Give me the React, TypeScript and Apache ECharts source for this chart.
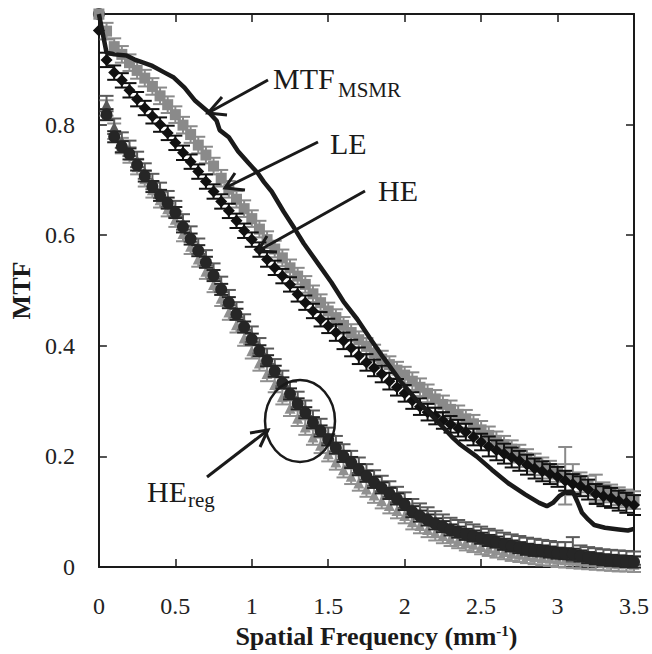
import React, { useEffect, useRef } from "react";
import * as echarts from "echarts";

const FREQ = [
  0, 0.05, 0.1, 0.15, 0.2, 0.25, 0.3, 0.35, 0.4, 0.45, 0.5, 0.55, 0.6, 0.65, 0.7, 0.75, 0.8, 0.85, 0.9, 0.95,
  1.0, 1.05, 1.1, 1.15, 1.2, 1.25, 1.3, 1.35, 1.4, 1.45, 1.5, 1.55, 1.6, 1.65, 1.7, 1.75, 1.8, 1.85, 1.9, 1.95,
  2.0, 2.05, 2.1, 2.15, 2.2, 2.25, 2.3, 2.35, 2.4, 2.45, 2.5, 2.55, 2.6, 2.65, 2.7, 2.75, 2.8, 2.85, 2.9, 2.95,
  3.0, 3.05, 3.1, 3.15, 3.2, 3.25, 3.3, 3.35, 3.4, 3.45, 3.5,
];

const LE = [
  1.0, 0.969, 0.941, 0.927, 0.912, 0.898, 0.884, 0.869, 0.852, 0.836, 0.818, 0.799, 0.782, 0.763, 0.745, 0.725, 0.703, 0.683, 0.665, 0.648,
  0.63, 0.611, 0.592, 0.575, 0.559, 0.541, 0.526, 0.511, 0.494, 0.478, 0.463, 0.451, 0.437, 0.424, 0.411, 0.399, 0.387, 0.376, 0.366, 0.356,
  0.347, 0.336, 0.325, 0.314, 0.304, 0.294, 0.285, 0.276, 0.268, 0.259, 0.248, 0.238, 0.229, 0.221, 0.213, 0.205, 0.197, 0.189, 0.182, 0.176,
  0.17, 0.165, 0.158, 0.153, 0.147, 0.142, 0.137, 0.133, 0.128, 0.124, 0.121,
];
const LE_ERR = [
  0, 0.015, 0.015, 0.015, 0.015, 0.015, 0.015, 0.015, 0.015, 0.015, 0.015, 0.015, 0.015, 0.015, 0.015, 0.015, 0.015, 0.015, 0.015, 0.015,
  0.015, 0.015, 0.015, 0.015, 0.015, 0.015, 0.015, 0.015, 0.015, 0.015, 0.015, 0.015, 0.015, 0.015, 0.015, 0.015, 0.015, 0.015, 0.015, 0.015,
  0.015, 0.016, 0.016, 0.016, 0.016, 0.016, 0.016, 0.016, 0.016, 0.016, 0.016, 0.016, 0.016, 0.016, 0.016, 0.016, 0.016, 0.016, 0.016, 0.016,
  0.016, 0.052, 0.028, 0.018, 0.018, 0.025, 0.016, 0.016, 0.016, 0.016, 0.016,
];

const HE = [
  0.97, 0.917, 0.894, 0.88, 0.862, 0.846, 0.83, 0.815, 0.8, 0.785, 0.767, 0.749, 0.733, 0.715, 0.697, 0.679, 0.661, 0.644, 0.626, 0.608,
  0.592, 0.574, 0.556, 0.541, 0.526, 0.511, 0.493, 0.478, 0.463, 0.448, 0.436, 0.424, 0.409, 0.396, 0.382, 0.37, 0.36, 0.349, 0.336, 0.325,
  0.314, 0.301, 0.29, 0.28, 0.273, 0.265, 0.258, 0.251, 0.244, 0.235, 0.226, 0.218, 0.211, 0.205, 0.198, 0.192, 0.185, 0.178, 0.173, 0.168,
  0.163, 0.156, 0.15, 0.146, 0.14, 0.132, 0.128, 0.125, 0.12, 0.116, 0.112,
];
const HE_ERR = [
  0, 0.013, 0.013, 0.013, 0.013, 0.013, 0.013, 0.013, 0.013, 0.013, 0.013, 0.013, 0.013, 0.013, 0.013, 0.013, 0.013, 0.013, 0.013, 0.013,
  0.013, 0.013, 0.013, 0.013, 0.013, 0.013, 0.013, 0.013, 0.013, 0.013, 0.013, 0.015, 0.015, 0.015, 0.015, 0.015, 0.015, 0.015, 0.015, 0.015,
  0.015, 0.015, 0.015, 0.015, 0.015, 0.015, 0.015, 0.015, 0.015, 0.015, 0.015, 0.018, 0.018, 0.018, 0.018, 0.018, 0.018, 0.018, 0.018, 0.018,
  0.018, 0.018, 0.018, 0.018, 0.018, 0.018, 0.018, 0.018, 0.018, 0.018, 0.018,
];

const REG_A = [
  1.0, 0.818, 0.778, 0.76, 0.747, 0.727, 0.707, 0.688, 0.672, 0.658, 0.641, 0.615, 0.593, 0.572, 0.551, 0.527, 0.502, 0.478, 0.457, 0.434,
  0.412, 0.391, 0.373, 0.354, 0.333, 0.313, 0.295, 0.279, 0.261, 0.246, 0.23, 0.215, 0.2, 0.189, 0.176, 0.164, 0.153, 0.143, 0.133, 0.123,
  0.113, 0.1, 0.092, 0.085, 0.078, 0.073, 0.067, 0.063, 0.059, 0.056, 0.052, 0.048, 0.045, 0.041, 0.038, 0.035, 0.032, 0.03, 0.029, 0.027,
  0.025, 0.024, 0.023, 0.02, 0.017, 0.015, 0.013, 0.012, 0.011, 0.01, 0.009,
];
const REG_A_ERR = [
  0, 0.01, 0.01, 0.01, 0.01, 0.01, 0.01, 0.01, 0.01, 0.01, 0.01, 0.01, 0.01, 0.01, 0.01, 0.01, 0.01, 0.01, 0.01, 0.01,
  0.01, 0.01, 0.01, 0.01, 0.01, 0.01, 0.01, 0.01, 0.01, 0.01, 0.01, 0.01, 0.01, 0.01, 0.01, 0.01, 0.01, 0.01, 0.01, 0.01,
  0.01, 0.01, 0.01, 0.01, 0.01, 0.01, 0.01, 0.01, 0.01, 0.01, 0.01, 0.01, 0.01, 0.01, 0.01, 0.01, 0.01, 0.01, 0.01, 0.01,
  0.01, 0.01, 0.01, 0.01, 0.01, 0.01, 0.01, 0.01, 0.01, 0.01, 0.01,
];

const REG_B = [
  1.0, 0.838, 0.797, 0.772, 0.757, 0.737, 0.716, 0.697, 0.681, 0.666, 0.648, 0.624, 0.602, 0.58, 0.559, 0.535, 0.511, 0.487, 0.465, 0.443,
  0.421, 0.4, 0.381, 0.362, 0.341, 0.321, 0.303, 0.287, 0.269, 0.254, 0.238, 0.223, 0.208, 0.196, 0.184, 0.172, 0.161, 0.151, 0.141, 0.131,
  0.121, 0.109, 0.101, 0.094, 0.087, 0.081, 0.075, 0.071, 0.067, 0.063, 0.059, 0.055, 0.052, 0.048, 0.045, 0.042, 0.039, 0.037, 0.035, 0.033,
  0.031, 0.031, 0.032, 0.027, 0.024, 0.022, 0.02, 0.019, 0.018, 0.017, 0.016,
];
const REG_B_ERR = [
  0, 0.014, 0.014, 0.014, 0.014, 0.014, 0.014, 0.014, 0.014, 0.014, 0.014, 0.014, 0.014, 0.014, 0.014, 0.014, 0.014, 0.014, 0.014, 0.014,
  0.014, 0.014, 0.014, 0.014, 0.014, 0.014, 0.014, 0.014, 0.014, 0.014, 0.014, 0.014, 0.014, 0.014, 0.014, 0.014, 0.014, 0.014, 0.014, 0.014,
  0.014, 0.014, 0.014, 0.014, 0.014, 0.014, 0.014, 0.014, 0.014, 0.014, 0.014, 0.014, 0.014, 0.014, 0.014, 0.014, 0.014, 0.014, 0.014, 0.014,
  0.014, 0.014, 0.022, 0.012, 0.012, 0.012, 0.012, 0.012, 0.012, 0.012, 0.012,
];

const REG_C = [
  1.0, 0.83, 0.788, 0.762, 0.745, 0.724, 0.702, 0.682, 0.664, 0.648, 0.629, 0.603, 0.58, 0.557, 0.535, 0.511, 0.486, 0.461, 0.438, 0.414,
  0.391, 0.369, 0.35, 0.33, 0.308, 0.287, 0.269, 0.253, 0.235, 0.22, 0.205, 0.19, 0.176, 0.164, 0.152, 0.141, 0.13, 0.12, 0.111, 0.102,
  0.093, 0.082, 0.075, 0.068, 0.062, 0.057, 0.052, 0.048, 0.044, 0.041, 0.037, 0.034, 0.031, 0.028, 0.025, 0.023, 0.021, 0.019, 0.017, 0.016,
  0.014, 0.013, 0.012, 0.011, 0.01, 0.009, 0.008, 0.007, 0.006, 0.006, 0.005,
];
const REG_C_ERR = [
  0, 0.014, 0.014, 0.014, 0.014, 0.014, 0.014, 0.014, 0.014, 0.014, 0.014, 0.014, 0.014, 0.014, 0.014, 0.014, 0.014, 0.014, 0.014, 0.014,
  0.014, 0.014, 0.014, 0.014, 0.014, 0.014, 0.014, 0.014, 0.014, 0.014, 0.014, 0.014, 0.014, 0.014, 0.014, 0.014, 0.014, 0.014, 0.014, 0.014,
  0.014, 0.014, 0.014, 0.014, 0.014, 0.014, 0.014, 0.014, 0.014, 0.014, 0.014, 0.014, 0.014, 0.014, 0.014, 0.014, 0.014, 0.014, 0.014, 0.014,
  0.014, 0.014, 0.014, 0.014, 0.014, 0.014, 0.014, 0.014, 0.014, 0.014, 0.014,
];

const MSMR_X = [
  0, 0.05, 0.1, 0.18, 0.23, 0.29, 0.35, 0.43, 0.49, 0.56, 0.63, 0.72, 0.77, 0.79, 0.85, 0.91, 0.98, 1.04, 1.08, 1.13,
  1.21, 1.28, 1.34, 1.43, 1.52, 1.6, 1.69, 1.77, 1.86, 1.97, 2.08, 2.19, 2.31, 2.36, 2.47, 2.57, 2.68, 2.79, 2.88, 2.93,
  2.97, 3.01, 3.05, 3.1, 3.13, 3.16, 3.2, 3.24, 3.31, 3.4, 3.46, 3.5,
];
const MSMR_Y = [
  1.0, 0.93, 0.927, 0.925, 0.918, 0.912, 0.906, 0.894, 0.885, 0.867, 0.843, 0.822, 0.807, 0.79, 0.777, 0.752, 0.73, 0.712, 0.696, 0.679,
  0.642, 0.612, 0.585, 0.55, 0.515, 0.48, 0.448, 0.415, 0.379, 0.337, 0.301, 0.271, 0.235, 0.222, 0.2, 0.176, 0.151, 0.131, 0.116, 0.11,
  0.116, 0.128, 0.135, 0.136, 0.118, 0.098, 0.086, 0.076, 0.071, 0.068, 0.066, 0.069,
];

const X_NAME = "Spatial Frequency (mm{sup|-1})";
const Y_NAME = "MTF";

const SERIF = "Liberation Serif";
const INK = "#1a1a1a";

function errorSeries(ys: number[], errs: number[], color: string, z: number) {
  return {
    type: "custom",
    z,
    silent: true,
    clip: false,
    data: FREQ.map((x, i) => [x, ys[i], errs[i]]),
    renderItem: (params: any, api: any) => {
      const x = api.value(0);
      const y = api.value(1);
      const e = api.value(2);
      if (!e) return null;
      const lo = api.coord([x, y - e]);
      const hi = api.coord([x, y + e]);
      const hw = 7;
      const st = { stroke: color, lineWidth: 2 };
      return {
        type: "group",
        children: [
          { type: "line", shape: { x1: lo[0], y1: lo[1], x2: hi[0], y2: hi[1] }, style: st },
          { type: "line", shape: { x1: lo[0] - hw, y1: lo[1], x2: lo[0] + hw, y2: lo[1] }, style: st },
          { type: "line", shape: { x1: hi[0] - hw, y1: hi[1], x2: hi[0] + hw, y2: hi[1] }, style: st },
        ],
      };
    },
  };
}

function markerSeries(name: string, ys: number[], color: string, symbol: string, size: number, z: number) {
  return {
    name,
    type: "scatter",
    z,
    symbol,
    symbolSize: size,
    itemStyle: { color, opacity: 1 },
    data: FREQ.map((x, i) => [x, ys[i]]),
  };
}

function arrow(x1: number, y1: number, tx: number, ty: number, h1: number[], h2: number[]) {
  const st = { stroke: INK, lineWidth: 3, fill: null };
  return [
    { type: "line", shape: { x1, y1, x2: tx, y2: ty }, style: st, z: 100 },
    { type: "polyline", shape: { points: [h1, [tx, ty], h2] }, style: { ...st, lineJoin: "miter" }, z: 100 },
  ];
}

function label(text: string, x: number, y: number, size: number) {
  return {
    type: "text",
    z: 100,
    style: {
      text,
      x,
      y,
      fontSize: size,
      fontFamily: SERIF,
      fill: INK,
      align: "left",
      verticalAlign: "middle",
      textAlign: "left",
      textVerticalAlign: "middle",
    },
  };
}

export default function App() {
  const ref = useRef<HTMLDivElement>(null);
  useEffect(() => {
    if (!ref.current) return;
    const chart = echarts.init(ref.current, null, { renderer: "svg" });
    const axisLine = { show: true, onZero: false, lineStyle: { color: INK, width: 2 } };
    const axisTick = { show: true, inside: true, length: 8, lineStyle: { color: INK, width: 1.5 } };
    const labelStyle = { fontSize: 24, fontFamily: SERIF, color: "#222" };
    chart.setOption({
      animation: false,
      backgroundColor: "#ffffff",
      textStyle: { fontFamily: SERIF },
      grid: { left: 96, right: 16, top: 14, bottom: 83 },
      xAxis: [
        {
          type: "value",
          min: 0,
          max: 3.5,
          interval: 0.5,
          position: "bottom",
          axisLine,
          axisTick,
          splitLine: { show: false },
          axisLabel: { ...labelStyle, margin: 27 },
          name: X_NAME,
          nameLocation: "middle",
          nameGap: 56,
          nameTextStyle: {
            fontSize: 26,
            fontWeight: "bold",
            fontFamily: SERIF,
            color: INK,
            padding: [0, 0, 0, 20],
            rich: {
              sup: { fontSize: 15, fontWeight: "bold", fontFamily: SERIF, color: INK, verticalAlign: "top" },
            },
          },
        },
        {
          type: "value",
          min: 0,
          max: 3.5,
          interval: 0.5,
          position: "top",
          axisLine,
          axisTick,
          splitLine: { show: false },
          axisLabel: { show: false },
        },
      ],
      yAxis: [
        {
          type: "value",
          min: 0,
          max: 1,
          interval: 0.2,
          position: "left",
          axisLine,
          axisTick,
          splitLine: { show: false },
          axisLabel: {
            ...labelStyle,
            margin: 24,
            formatter: (v: number) => (v >= 1 ? "" : String(Math.round(v * 10) / 10)),
          },
          name: Y_NAME,
          nameLocation: "middle",
          nameGap: 63,
          nameTextStyle: { fontSize: 26, fontWeight: "bold", fontFamily: SERIF, color: INK },
        },
        {
          type: "value",
          min: 0,
          max: 1,
          interval: 0.2,
          position: "right",
          axisLine,
          axisTick,
          splitLine: { show: false },
          axisLabel: { show: false },
        },
      ],
      series: [
        errorSeries(REG_C, REG_C_ERR, "#909090", 2),
        markerSeries("HEreg (c)", REG_C, "#909090", "triangle", 11, 3),
        errorSeries(REG_B, REG_B_ERR, "#5a5a5a", 4),
        markerSeries("HEreg (b)", REG_B, "#5a5a5a", "triangle", 9, 5),
        errorSeries(REG_A, REG_A_ERR, "#262626", 6),
        markerSeries("HEreg", REG_A, "#262626", "circle", 12, 7),
        errorSeries(LE, LE_ERR, "#8a8a8a", 8),
        markerSeries("LE", LE, "#8a8a8a", "rect", 11, 9),
        errorSeries(HE, HE_ERR, "#111111", 10),
        markerSeries("HE", HE, "#111111", "diamond", 12, 11),
        {
          name: "MTF MSMR",
          type: "line",
          z: 12,
          symbol: "none",
          lineStyle: { color: INK, width: 4.5 },
          data: MSMR_X.map((x, i) => [x, MSMR_Y[i]]),
        },
      ],
      graphic: [
        ...arrow(268, 80, 208, 113, [222, 97], [227, 115]),
        ...arrow(318, 142, 225, 188, [235, 173], [245, 190]),
        ...arrow(365, 191, 258, 251, [267, 236], [277, 252]),
        ...arrow(207, 477, 268, 430, [250, 433], [260, 447]),
        {
          type: "ellipse",
          z: 100,
          shape: { cx: 300, cy: 421, rx: 35, ry: 41 },
          style: { stroke: INK, lineWidth: 2.5, fill: null },
        },
        label("MTF", 273, 78, 30),
        label("MSMR", 338, 90, 21),
        label("LE", 330, 143, 30),
        label("HE", 378, 190, 30),
        label("HE", 147, 491, 30),
        label("reg", 188, 500, 21),
      ],
    });
    return () => chart.dispose();
  }, []);
  return <div ref={ref} style={{ position: "fixed", left: 0, top: 0, width: 652, height: 654 }} />;
}
